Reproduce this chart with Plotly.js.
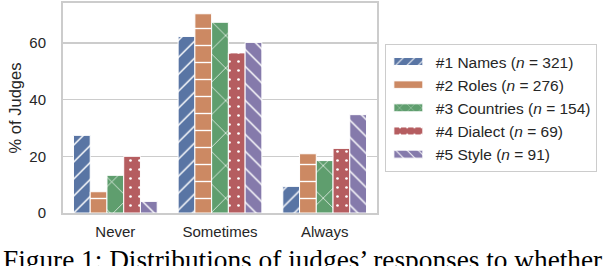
<!DOCTYPE html>
<html>
<head>
<meta charset="utf-8">
<script src="https://cdn.plot.ly/plotly-3.0.1.min.js"></script>
<style>html,body{margin:0;padding:0;background:#fff;}#chart{width:608px;height:266px;}</style>
</head>
<body>
<div id="chart"></div>
<script>
const categories = ["Never", "Sometimes", "Always"];
const seriesNames = [
  "#1 Names (<i>n</i> = 321)",
  "#2 Roles (<i>n</i> = 276)",
  "#3 Countries (<i>n</i> = 154)",
  "#4 Dialect (<i>n</i> = 69)",
  "#5 Style (<i>n</i> = 91)"
];
const names = [27.4, 62.3, 9.4];
const roles = [7.5, 70.3, 20.9];
const countries = [13.3, 67.3, 18.5];
const dialect = [20.0, 56.5, 22.8];
const style = [4.1, 60.2, 34.7];
const yTicks = [0, 20, 40, 60];
const caption = "Figure 1: Distributions of judges’ responses to whether";

const seriesValues = [names, roles, countries, dialect, style];
const colors = ["#5975A4", "#CC8963", "#5F9E6E", "#B55D60", "#857AAB"];
const patterns = [
  {shape: "/", size: 12, solidity: 0.12},
  {shape: "-", size: 17, solidity: 0.08},
  {shape: "x", size: 23, solidity: 0.06},
  {shape: ".", size: 9, solidity: 0.07},
  {shape: "\\", size: 12, solidity: 0.12}
];

const traces = seriesValues.map((vals, i) => ({
  type: "bar",
  name: seriesNames[i],
  x: categories,
  y: vals,
  marker: {
    color: colors[i],
    line: {color: "#ffffff", width: 1},
    pattern: Object.assign({fgcolor: "#ffffff", bgcolor: colors[i], fillmode: "replace"}, patterns[i])
  },
  hoverinfo: "skip"
}));

const font = {family: "Liberation Sans, Arial, sans-serif", color: "#262626"};

const layout = {
  width: 608, height: 266,
  margin: {l: 63, r: 231, t: 3, b: 53},
  paper_bgcolor: "#ffffff",
  plot_bgcolor: "#ffffff",
  barmode: "group",
  bargap: 0.2,
  bargroupgap: 0,
  font: Object.assign({size: 15}, font),
  xaxis: {
    type: "category",
    range: [-0.5, 2.5],
    showgrid: false,
    showline: true, mirror: true, linecolor: "#cccccc", linewidth: 2,
    ticks: "", ticklabelstandoff: 4,
    tickfont: Object.assign({size: 15}, font),
    zeroline: false
  },
  yaxis: {
    range: [0, 74.1],
    tickvals: yTicks,
    showgrid: true, gridcolor: "#cccccc", gridwidth: 1.6,
    showline: true, mirror: true, linecolor: "#cccccc", linewidth: 2,
    ticks: "", ticklabelstandoff: 12,
    tickfont: Object.assign({size: 15}, font),
    zeroline: false,
    title: {text: "% of Judges", font: Object.assign({size: 16.5}, font), standoff: 4}
  },
  legend: {
    x: 1.025, y: 0.805, xanchor: "left", yanchor: "top",
    bordercolor: "#cccccc", borderwidth: 1,
    bgcolor: "#ffffff",
    itemwidth: 40,
    font: Object.assign({size: 15.5}, font),
    traceorder: "normal"
  },
  annotations: [{
    text: caption,
    xref: "paper", yref: "paper",
    x: -0.197, y: -0.145, xanchor: "left", yanchor: "top",
    showarrow: false,
    font: {family: "Liberation Serif, Times New Roman, serif", size: 27.3, color: "#000000"}
  }]
};

Plotly.newPlot("chart", traces, layout, {displayModeBar: false, staticPlot: true}).then(function (gd) {
  // widen the legend swatches into flat rectangles like the reference
  gd.querySelectorAll(".legend .legendpoints path").forEach(function (p) {
    p.setAttribute("d", "M12,4H-17V-4H12Z");
  });
});
</script>
</body>
</html>
